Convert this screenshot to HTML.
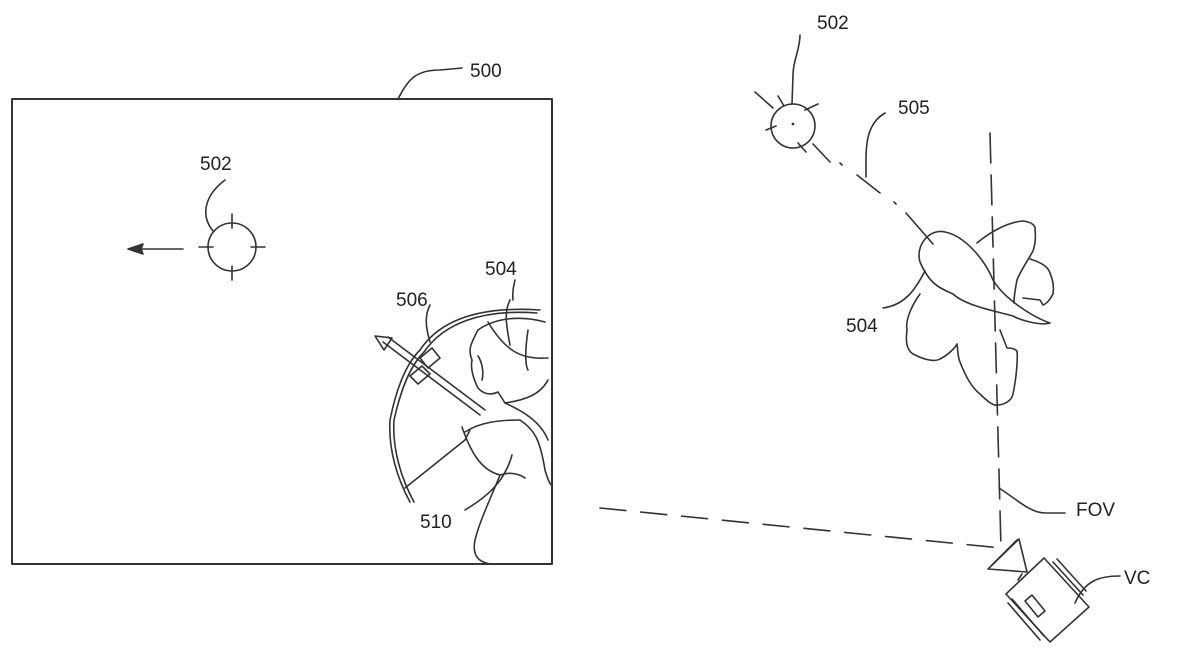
<!DOCTYPE html>
<html><head><meta charset="utf-8"><style>
html,body{margin:0;padding:0;background:#fff}
svg{display:block}
text{font-family:"Liberation Sans",sans-serif;font-size:19px;fill:#222}
</style></head><body>
<svg width="1200" height="654" viewBox="0 0 1200 654" xmlns="http://www.w3.org/2000/svg">
<g fill="none" stroke="#333" stroke-width="1.6" stroke-linecap="round" stroke-linejoin="round">
<rect x="12" y="99" width="540" height="465" stroke-width="2"/>
<path d="M398 99 C408 80 415 70 440 70 L462 68"/>
<circle cx="232" cy="247" r="24"/>
<path d="M232 214v14 M232 266v14 M199 247h14 M251 247h14"/>
<path d="M213 231 C200 215 205 195 225 180"/>
<path d="M183 249 H140"/>
<path d="M128 249 L143 244 L141 249 L143 254 Z" fill="#333"/>
<path d="M540 310 C480 306 440 320 420 350 C410 360 398 380 390 420 C388 450 398 480 410 502"/>
<path d="M537 313 C482 309 444 323 424 352 C412 364 402 384 394 420 C392 450 402 480 414 502"/>
<path d="M405 488 L465 440 L470 430"/>
<path d="M383 342 L480 415 M388 337 L485 410"/>
<path d="M375 336 L392 338 L384 350 Z"/>
<path d="M420 358 L432 348 L440 358 L428 368 Z"/>
<path d="M410 376 L422 366 L430 374 L418 384 Z"/>
<path d="M478 330 C470 345 468 350 472 360 C470 370 474 380 478 388 C484 395 492 395 498 392 L505 403 C525 400 540 395 548 380"/>
<path d="M478 330 C495 318 520 315 545 322"/>
<path d="M488 322 C505 350 520 360 548 358"/>
<path d="M505 403 C520 410 540 420 548 440"/>
<path d="M465 432 C480 422 500 420 520 420 C535 430 540 440 545 470 C548 480 550 485 552 485"/>
<path d="M462 427 C470 450 480 470 500 475 C515 470 525 478 525 478"/>
<path d="M500 475 C490 500 480 520 475 540 C472 555 478 562 490 564"/>
<path d="M510 300 C505 310 505 320 510 345 M528 330 C525 350 525 365 528 370 M478 356 C482 362 484 372 482 380"/>
<path d="M512 455 C505 480 490 495 465 510"/>
<path d="M430 342 C425 325 425 315 430 305"/>
<path d="M513 300 C512 290 514 285 515 280"/>
<circle cx="793" cy="126" r="22"/>
<path d="M792 104 L793 75 C793 60 800 50 800 35"/>
<path d="M755 92 L773 108 M813 144 L830 162"/>
<path d="M778 96 L784 106 M766 130 L776 126 M805 110 L818 104 M798 143 L806 152"/>
<circle cx="793" cy="124" r="0.6"/>
<path d="M840 163 L842 165 M857 175 L880 193 M894 202 L896 204 M906 213 L933 244" />
<path d="M866 177 C866 150 864 125 885 113"/>
<path d="M920 262 C915 245 930 228 945 232 C965 236 985 260 993 280 C1005 300 1035 318 1050 323 C1040 326 1020 320 1013 316 C990 310 965 305 953 294 C940 288 930 285 920 262"/>
<path d="M920 294 C912 305 905 320 907 330 C905 345 908 352 915 355 C925 360 935 362 940 359 C948 355 955 348 957 344 C958 352 958 358 960 362 C965 375 972 388 980 394 C988 402 994 406 997 405 C1005 405 1012 400 1013 394 C1016 380 1018 360 1017 351 C1014 348 1010 348 1007 348 L1000 330"/>
<path d="M977 243 C990 232 1008 222 1023 221 C1032 222 1036 226 1035 230 C1036 238 1035 245 1033 251 C1028 260 1020 272 1017 280 C1015 290 1014 298 1014 303"/>
<path d="M1030 259 C1040 262 1048 266 1050 273 C1053 280 1054 288 1053 294 C1050 300 1046 304 1043 305 L1040 300 L1023 298"/>
<path d="M925 271 C915 290 905 305 883 308"/>
<path d="M990 133 L1001 548" stroke-dasharray="30 12"/>
<path d="M600 508 L1001 548" stroke-dasharray="26 15"/>
<path d="M999 488 C1015 498 1030 513 1045 513 L1065 513"/>
<path d="M1006 594 L1044 558 L1089 607 L1050 642 Z"/>
<path d="M988 569 L1019 539 L1027 572 Z"/>
<path d="M992 565 L1017 540"/>
<path d="M1022 574 L1018 580"/>
<path d="M1053 562 L1083 595 M1057 559 L1086 591"/>
<path d="M1008 603 L1040 640 M1012 599 L1044 636"/>
<path d="M1025 601 L1032 595 L1045 611 L1038 617 Z"/>
<path d="M1075 603 C1085 580 1100 576 1120 576"/>
</g>
<text x="470" y="77">500</text>
<text x="200" y="170">502</text>
<text x="817" y="29">502</text>
<text x="898" y="114">505</text>
<text x="485" y="275">504</text>
<text x="396" y="306">506</text>
<text x="420" y="528">510</text>
<text x="846" y="332">504</text>
<text x="1076" y="516">FOV</text>
<text x="1124" y="584">VC</text>
</svg>
</body></html>
